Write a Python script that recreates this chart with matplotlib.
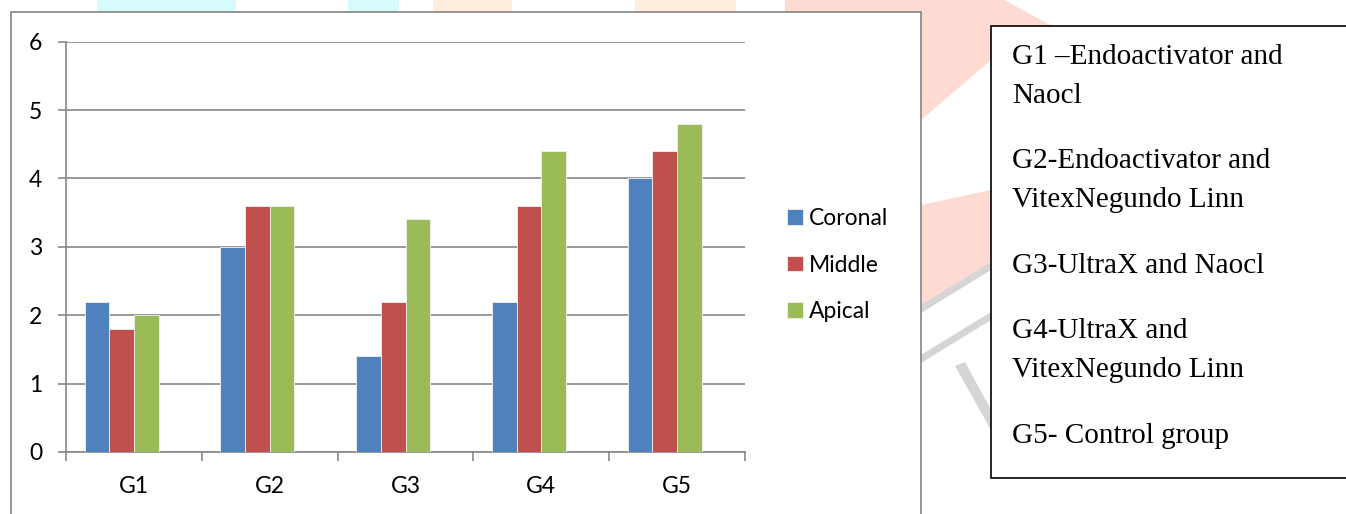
import numpy as np
import matplotlib
matplotlib.use("Agg")
from matplotlib import pyplot as plt
from matplotlib.patches import Rectangle, Polygon

# scores per group, one list per root third
groups = ["G1", "G2", "G3", "G4", "G5"]
coronal = [2.2, 3.0, 1.4, 2.2, 4.0]
middle = [1.8, 3.6, 2.2, 3.6, 4.4]
apical = [2.0, 3.6, 3.4, 4.4, 4.8]
series_names = ["Coronal", "Middle", "Apical"]
series_colors = ["#4F81BD", "#C0504D", "#9BBB59"]

key_lines = [
    ["G1 \u2013Endoactivator and", "Naocl"],
    ["G2-Endoactivator and", "VitexNegundo Linn"],
    ["G3-UltraX and Naocl"],
    ["G4-UltraX and", "VitexNegundo Linn"],
    ["G5- Control group"],
]

W, H = 1346, 514
fig = plt.figure(figsize=(W / 100, H / 100), dpi=100)

def px(x, y):
    return (x / W, 1 - y / H)

# faint watermark shapes behind everything
wm = [
    ("#D6FBFD", [(97, 0), (236, 0), (236, 12), (97, 12)]),
    ("#D6FBFD", [(348, 0), (399, 0), (399, 12), (348, 12)]),
    ("#FFEEDD", [(433, 0), (512, 0), (512, 12), (433, 12)]),
    ("#FFEEDD", [(635, 0), (736, 0), (736, 12), (635, 12)]),
    ("#FFDAD3", [(785, 0), (1004, 0), (1052, 26), (1052, 60), (921, 60), (921, 12), (785, 12)]),
    ("#FFDAD3", [(921, 0), (991, 0), (991, 60), (921, 120)]),
    ("#FFDAD3", [(921, 205), (991, 190), (991, 265), (921, 310)]),
    ("#D5D5D5", [(921, 305), (991, 262), (991, 270), (921, 313)]),
    ("#D5D5D5", [(921, 355), (991, 312), (991, 320), (921, 363)]),
    ("#D5D5D5", [(955, 366), (965, 362), (991, 410), (991, 430)]),
]
for c, pts in wm:
    fig.patches.append(Polygon([px(*p) for p in pts], closed=True, transform=fig.transFigure,
                               facecolor=c, edgecolor="none", zorder=0))

# chart frame
x0, y0 = px(11, 12)
fig.patches.append(Rectangle((x0, -0.05), px(921, 0)[0] - x0, y0 + 0.05, transform=fig.transFigure,
                             facecolor="white", edgecolor="#8C8C8C", lw=1.3, zorder=1))

# key box
bx, by = px(991, 478)
fig.patches.append(Rectangle((bx, by), 1.05 - bx, px(0, 25.5)[1] - by, transform=fig.transFigure,
                             facecolor="white", edgecolor="black", lw=1.2, zorder=1))

l, b = px(66, 452)
r, t = px(745, 41.7)
ax = fig.add_axes([l, b, r - l, t - b])
ax.set_zorder(2)
ax.patch.set_visible(False)

x = np.arange(len(groups))
w = 1 / 5.5
for k, (vals, name, col) in enumerate(zip([coronal, middle, apical], series_names, series_colors)):
    ax.bar(x + (k - 1.5) * w, vals, w, color=col, edgecolor="#F2F2F2", lw=0.6, label=name, zorder=3)

ax.set_xlim(-0.5, len(groups) - 0.5)
ax.set_ylim(0, 6)
ax.set_yticks(range(7))
ax.yaxis.grid(True, color="#878787", lw=1.2)
ax.set_axisbelow(True)
for s in ["top", "right"]:
    ax.spines[s].set_visible(False)
for s in ["left", "bottom"]:
    ax.spines[s].set_color("#878787")
    ax.spines[s].set_linewidth(1.2)

ax.set_xticks(x)
ax.set_xticklabels(groups)
ax.set_xticks(np.arange(-0.5, len(groups)), minor=True)
ax.tick_params(axis="x", which="major", length=0, pad=17, labelsize=16.5)
ax.tick_params(axis="x", which="minor", length=6.5, width=1.2, color="#878787")
ax.tick_params(axis="y", length=6, width=1.2, color="#878787", pad=11, labelsize=16.5)
for lab in ax.get_xticklabels() + ax.get_yticklabels():
    lab.set_fontfamily("Lato")

fig.legend(loc="center left", bbox_to_anchor=px(776, 265), frameon=False, borderpad=0,
           handlelength=0.66, handleheight=0.66, handletextpad=0.28, labelspacing=1.12,
           prop={"family": "Lato", "size": 16.5})

# key text, one baseline per line
baselines = [[64, 103], [168, 207], [273], [338, 377], [443]]
for lines, ys in zip(key_lines, baselines):
    for txt, yy in zip(lines, ys):
        fig.text(*px(1012, yy), txt, family="Liberation Serif", fontsize=21,
                 va="baseline", ha="left", zorder=3)

fig.savefig("out.png", dpi=100)
